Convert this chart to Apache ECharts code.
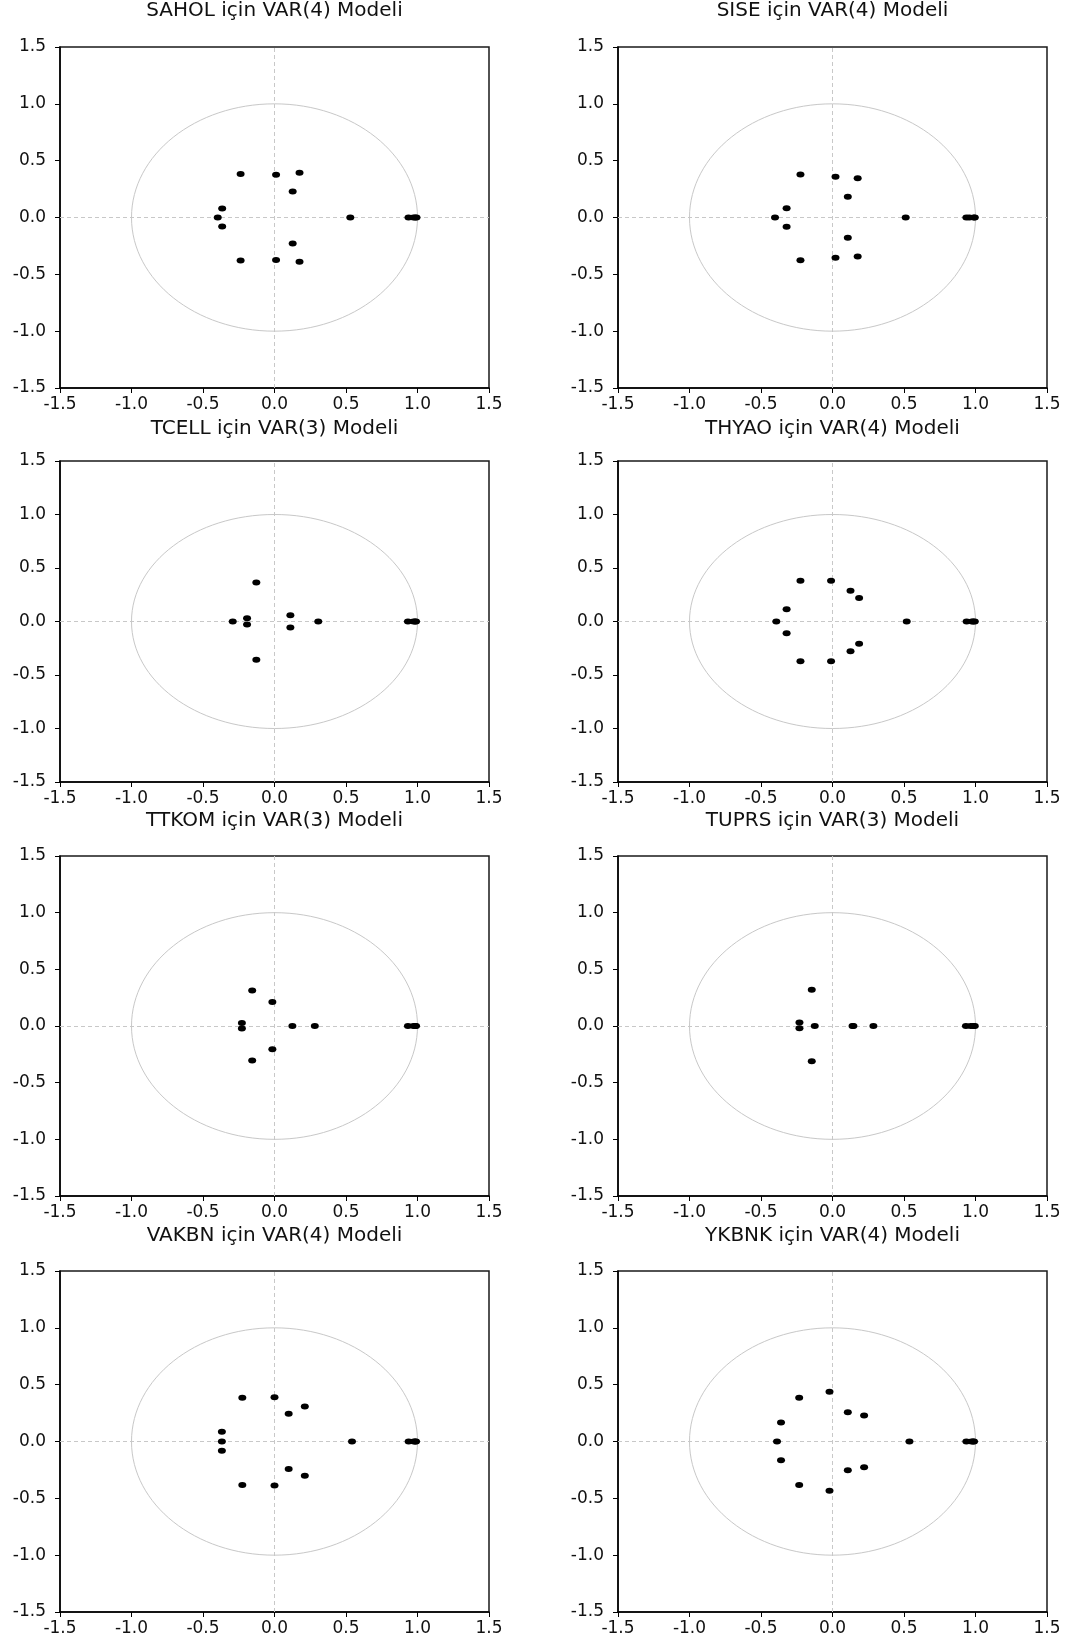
<!DOCTYPE html>
<html>
<head>
<meta charset="utf-8">
<script src="https://cdn.jsdelivr.net/npm/echarts@6/dist/echarts.min.js"></script>
<style>
html,body{margin:0;padding:0;background:#fff;}
#chart{width:1070px;height:1643px;}
</style>
</head>
<body>
<div id="chart"></div>
<script>
// Panel titles
const titles = [
  'SAHOL için VAR(4) Modeli', 'SISE için VAR(4) Modeli',
  'TCELL için VAR(3) Modeli', 'THYAO için VAR(4) Modeli',
  'TTKOM için VAR(3) Modeli', 'TUPRS için VAR(3) Modeli',
  'VAKBN için VAR(4) Modeli', 'YKBNK için VAR(4) Modeli'
];
// Axis ticks
const tickMin = -1.5, tickMax = 1.5, tickStep = 0.5;
// Unit circle reference: [centerX, centerY, radius]
const unitCircle = [[0, 0, 1]];
// Zero reference lines
const zeroLines = [{ xAxis: 0 }, { yAxis: 0 }];

// Inverse roots of AR characteristic polynomial [real, imaginary]
const sahol = [[-0.237,0.382],[0.011,0.376],[0.175,0.393],[0.127,0.229],[-0.366,0.079],[-0.397,0],
  [-0.366,-0.079],[0.127,-0.229],[-0.237,-0.379],[0.011,-0.373],[0.175,-0.390],[0.530,0],
  [0.937,0],[0.972,0],[0.985,0],[0.993,0]];
const sise = [[-0.224,0.379],[0.021,0.358],[0.176,0.346],[0.107,0.182],[-0.321,0.082],[-0.402,0],
  [-0.321,-0.082],[0.107,-0.179],[-0.224,-0.376],[0.021,-0.355],[0.176,-0.343],[0.512,0],
  [0.936,0],[0.957,0],[0.988,0],[0.995,0]];
const tcell = [[-0.127,0.365],[-0.292,0],[-0.192,0.030],[-0.192,-0.028],[0.111,0.058],[0.111,-0.055],
  [0.306,0],[-0.127,-0.357],[0.933,0],[0.972,0],[0.984,0],[0.990,0]];
const thyao = [[-0.224,0.380],[-0.010,0.380],[0.126,0.287],[0.186,0.219],[-0.321,0.115],[-0.393,0],
  [-0.321,-0.110],[0.186,-0.209],[0.126,-0.278],[-0.224,-0.371],[-0.010,-0.371],[0.519,0],
  [0.938,0],[0.975,0],[0.985,0],[0.995,0]];
const ttkom = [[-0.156,0.314],[-0.015,0.211],[-0.228,0.027],[-0.228,-0.022],[0.125,0],[0.282,0],
  [-0.015,-0.205],[-0.156,-0.304],[0.933,0],[0.972,0],[0.984,0],[0.990,0]];
const tuprs = [[-0.145,0.320],[-0.231,0.030],[-0.231,-0.020],[-0.124,0],[0.140,0],[0.146,0],
  [0.286,0],[-0.145,-0.312],[0.933,0],[0.967,0],[0.985,0],[0.995,0]];
const vakbn = [[-0.225,0.385],[0.000,0.390],[0.212,0.308],[0.099,0.244],[-0.368,0.085],[-0.368,0],
  [-0.368,-0.082],[0.099,-0.241],[0.212,-0.302],[-0.225,-0.382],[0.000,-0.387],[0.542,0],
  [0.938,0],[0.974,0],[0.985,0],[0.990,0]];
const ykbnk = [[-0.021,0.437],[-0.233,0.385],[0.107,0.258],[0.221,0.229],[-0.360,0.168],[-0.388,0],
  [-0.360,-0.164],[0.221,-0.226],[0.107,-0.252],[-0.233,-0.382],[-0.021,-0.434],[0.538,0],
  [0.936,0],[0.972,0],[0.984,0],[0.990,0]];

const panels = [sahol, sise, tcell, thyao, ttkom, tuprs, vakbn, ykbnk];

// Layout (pixels)
const colLeft = [60, 618];
const colWidth = 429;
const rowTop = [47, 461, 856, 1271];
const rowHeight = [341, 321, 340, 341];
const titleTop = [1, 419, 811, 1226];

const FONT = 'DejaVu Sans';
const grids = [], xAxes = [], yAxes = [], series = [], titleList = [];

panels.forEach((pts, i) => {
  const r = Math.floor(i / 2), c = i % 2;
  grids.push({
    left: colLeft[c], top: rowTop[r], width: colWidth, height: rowHeight[r],
    show: true, borderColor: '#1a1a1a', borderWidth: 1.5, backgroundColor: '#fff'
  });
  titleList.push({
    text: titles[i], left: colLeft[c] + colWidth / 2, top: titleTop[r], textAlign: 'center',
    padding: 0,
    textStyle: { fontFamily: FONT, fontSize: 20, fontWeight: 'normal', color: '#111' }
  });
  const axisCommon = {
    type: 'value', min: tickMin, max: tickMax, interval: tickStep, gridIndex: i,
    axisLine: { show: true, onZero: false, lineStyle: { color: '#000', width: 1.5 } },
    axisTick: { show: true, length: 5, inside: false, lineStyle: { color: '#000', width: 1 } },
    splitLine: { show: false },
    axisLabel: {
      fontFamily: FONT, fontSize: 17, color: '#111',
      formatter: v => v.toFixed(1), showMinLabel: true, showMaxLabel: true
    }
  };
  xAxes.push(Object.assign({}, axisCommon, {
    position: 'bottom',
    axisLabel: Object.assign({}, axisCommon.axisLabel, { margin: 8 })
  }));
  yAxes.push(Object.assign({}, axisCommon, {
    position: 'left',
    axisLabel: Object.assign({}, axisCommon.axisLabel, { margin: 14 })
  }));
  // zero reference lines (underneath everything)
  series.push({
    type: 'scatter', xAxisIndex: i, yAxisIndex: i, z: 1, data: [], silent: true,
    markLine: {
      silent: true, symbol: ['none', 'none'], label: { show: false },
      lineStyle: { color: '#c8c8c8', type: [4, 3], width: 1 },
      emphasis: { disabled: true },
      data: zeroLines
    }
  });
  // unit circle (drawn through the axes' scales)
  series.push({
    type: 'custom', xAxisIndex: i, yAxisIndex: i, silent: true, z: 1,
    data: unitCircle,
    renderItem: (params, api) => {
      const c0 = api.coord([api.value(0), api.value(1)]);
      const c1 = api.coord([api.value(0) + api.value(2), api.value(1) + api.value(2)]);
      return {
        type: 'ellipse',
        shape: { cx: c0[0], cy: c0[1], rx: Math.abs(c1[0] - c0[0]), ry: Math.abs(c1[1] - c0[1]) },
        style: { fill: null, stroke: '#c8c8c8', lineWidth: 1 }
      };
    }
  });
  // roots
  series.push({
    type: 'scatter', xAxisIndex: i, yAxisIndex: i, z: 10, zlevel: 1,
    symbol: 'circle', symbolSize: [8, 6],
    itemStyle: { color: '#000', opacity: 1 },
    data: pts
  });
});

const chart = echarts.init(document.getElementById('chart'), null, { renderer: 'canvas' });
chart.setOption({
  backgroundColor: '#fff',
  animation: false,
  title: titleList,
  grid: grids,
  xAxis: xAxes,
  yAxis: yAxes,
  series: series
});
</script>
</body>
</html>
